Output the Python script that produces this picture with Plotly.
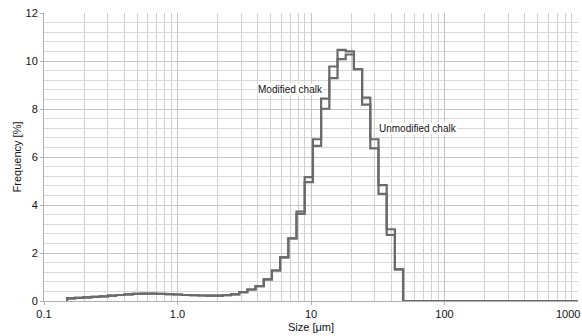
import plotly.graph_objects as go

# Bin edges (µm), log-spaced
bin_edges = [0.149, 0.171, 0.197, 0.227, 0.262, 0.302, 0.347, 0.400, 0.461, 0.531,
             0.611, 0.704, 0.811, 0.934, 1.077, 1.240, 1.428, 1.645, 1.895, 2.183,
             2.514, 2.896, 3.335, 3.842, 4.425, 5.097, 5.871, 6.762, 7.788, 8.971,
             10.339, 11.909, 13.717, 15.800, 18.199, 20.962, 24.144, 27.810, 32.032,
             36.895, 42.497, 48.949]
x_max = 1000

low_common = [0.11, 0.13, 0.15, 0.17, 0.19, 0.22, 0.25, 0.28, 0.30, 0.31, 0.31, 0.30,
              0.29, 0.27, 0.25, 0.24, 0.23, 0.22, 0.22, 0.24, 0.28, 0.37, 0.48, 0.62,
              0.90, 1.27, 1.82, 2.61]
modified_peak = [3.73, 5.16, 6.74, 8.43, 9.77, 10.46, 10.40, 9.66, 8.47, 6.74, 4.83, 2.99, 1.32]
unmodified_peak = [3.63, 4.95, 6.46, 8.01, 9.29, 10.08, 10.27, 9.66, 8.18, 6.36, 4.46, 2.75, 1.32]

modified = low_common + modified_peak
unmodified = low_common + unmodified_peak

x_ticks = [0.1, 1, 10, 100]
x_ticktext = ["0.1", "1.0", "10", "100"]
x_last_tick = "1000"
y_ticks = [0, 2, 4, 6, 8, 10, 12]

def step_xy(values):
    xs = [bin_edges[0]] + bin_edges[:-1] + [bin_edges[-1], x_max]
    ys = [0] + values + [0, 0]
    return xs, ys

line_color = "#6a6a6a"
fig = go.Figure()
for name, vals in [("Modified chalk", modified), ("Unmodified chalk", unmodified)]:
    xs, ys = step_xy(vals)
    fig.add_trace(go.Scatter(x=xs, y=ys, mode="lines", name=name,
                             line=dict(shape="hv", color=line_color, width=2.2),
                             showlegend=False))

minor_x = [m * 10 ** d for d in range(-1, 3) for m in range(2, 10)]
font = "Liberation Sans, Arial, sans-serif"

fig.update_layout(
    width=582, height=336,
    margin=dict(l=44, r=4, t=13, b=35),
    paper_bgcolor="white", plot_bgcolor="white",
    font=dict(family=font, size=11, color="#111111"),
    xaxis=dict(type="log", range=[-1, 3], tickmode="array", tickvals=x_ticks,
               ticktext=x_ticktext, showgrid=True, gridcolor="#c4c4c4", gridwidth=1,
               minor=dict(tickmode="array", tickvals=minor_x + [1000], showgrid=True,
                          gridcolor="#d0d0d0", gridwidth=1),
               showline=True, linecolor="#b0b0b0", zeroline=False,
               ticks="outside", ticklen=3, tickcolor="#b0b0b0",
               title=dict(text="Size [μm]", standoff=4, font=dict(size=11)),
               automargin=False, mirror=False),
    yaxis=dict(range=[0, 12], tickmode="array", tickvals=y_ticks, showgrid=True,
               gridcolor="#c4c4c4", gridwidth=1,
               minor=dict(dtick=0.4, showgrid=True, gridcolor="#d8d8d8", gridwidth=1),
               showline=True, linecolor="#b0b0b0", zeroline=False,
               ticks="outside", ticklen=3, tickcolor="#b0b0b0",
               title=dict(text="Frequency [%]", standoff=1, font=dict(size=11)),
               automargin=False),
    annotations=[
        dict(x=0.843, y=8.8, xref="x", yref="y", text="Modified chalk", showarrow=False,
             font=dict(size=10, family=font, color="#111111"), bgcolor="white",
             xanchor="center", yanchor="middle", borderpad=0),
        dict(x=1.502, y=7.2, xref="x", yref="y", text="Unmodified chalk", showarrow=False,
             font=dict(size=10, family=font, color="#111111"), bgcolor="white",
             xanchor="left", yanchor="middle", borderpad=0),
        dict(x=3, y=0, xref="x", yref="paper", yshift=-5, xshift=4, text=x_last_tick,
             showarrow=False, font=dict(size=11, family=font, color="#111111"),
             xanchor="right", yanchor="top"),
    ],
)

fig.write_html("out.html")
